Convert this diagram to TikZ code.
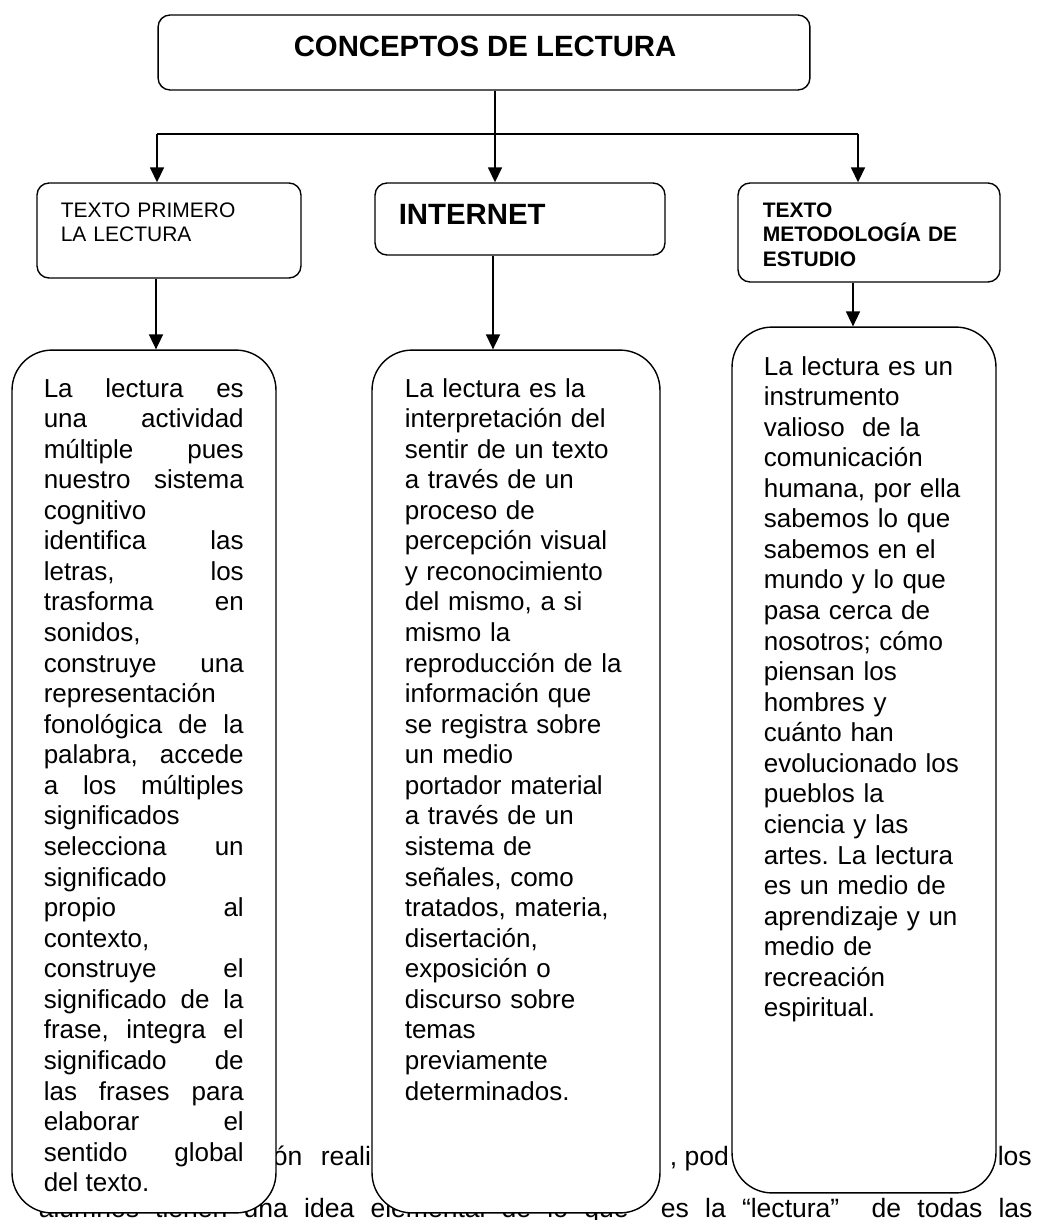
\documentclass[tikz,border=0pt]{standalone}
\usepackage{fontspec}
\setmainfont{Liberation Sans}
\frenchspacing
\usetikzlibrary{arrows.meta, positioning}
\tikzset{
>={Triangle[length=0.3cm, width=0.28cm]}, % filled arrow heads
every node/.style={inner sep=0pt}, % boxes are sized by hand
head/.style={draw, thick, rounded corners=0.24cm, fill=white}, % small title boxes
card/.style={draw, thick, rounded corners=0.8cm, fill=white}, % long text boxes
words/.style={anchor=base west, align=left, text width=4.6cm, font=\fontsize{14.8}{17.4}\selectfont}, % text in the long boxes
small/.style={anchor=base west, align=left, text width=4.6cm, font=\fontsize{11.95}{13.7}\selectfont}, % text in the title boxes
big/.style={anchor=base west, font=\fontsize{16.7}{20}\selectfont\bfseries}, % large bold titles
page/.style={anchor=base west, font=\fontsize{15.1}{18}\selectfont} % text of the page behind
}
\newcommand{\jl}[1]{\makebox[\hsize][s]{\spaceskip=0pt\xspaceskip=0pt #1}\\}

\begin{document}
\begin{tikzpicture}[x=0.02cm, y=-0.02cm, line width=0.9pt]
\path[use as bounding box] (0,0) rectangle (1037,1220);
\clip (0,0) rectangle (1037,1220);

% page text behind the chart
\node[page] (p1) at (272,1165) {ón};
\node[page] (p2) at (320,1165) {reali};
\node[page] (p3) at (669,1165) {, pod};
\node[page] (p4) at (997,1165) {los};
\node[page] (p5) at (38,1217) {\makebox[19.88cm][s]{alumnos tienen una idea elemental de lo que \ es la “lectura” \ de todas las}};

% boxes
\node[head, minimum width=13.04cm, minimum height=1.5cm] (top) at (484,52.5) {};
\node[head, minimum width=5.28cm, minimum height=1.9cm] (tA) at (169,230.5) {};
\node[head, minimum width=5.8cm, minimum height=1.44cm] (tB) at (520,219) {};
\node[head, minimum width=5.24cm, minimum height=1.98cm] (tC) at (869,232.5) {};
\node[card, minimum width=5.28cm, minimum height=17.26cm] (bA) at (144,781.5) {};
\node[card, minimum width=5.76cm, minimum height=17.26cm] (bB) at (516,781.5) {};
\node[card, minimum width=5.28cm, minimum height=17.32cm] (bC) at (864,760) {};

% titles
\node[big] (topt) at (293,57) {CONCEPTOS DE LECTURA};
\node[small] (tAt) at (60,217) {TEXTO PRIMERO\\LA LECTURA};
\node[big] (tBt) at (398,224) {INTERNET};
\node[small, font=\fontsize{11.95}{14.2}\selectfont\bfseries] (tCt) at (762,217) {TEXTO\\METODOLOGÍA DE\\ESTUDIO};

% long texts
\node[words, text width=4cm, align=justify] (bAt) at (43,397) {\jl{La lectura es}\jl{una actividad}\jl{múltiple pues}\jl{nuestro sistema}cognitivo\\
\jl{identifica las}\jl{letras, los}\jl{trasforma en}sonidos,\\\jl{construye una}representación\\
\jl{fonológica de la}\jl{palabra, accede}\jl{a los múltiples}significados\\\jl{selecciona un}significado\\
\jl{propio al}contexto,\\\jl{construye el}\jl{significado de la}\jl{frase, integra el}\jl{significado de}
\jl{las frases para}\jl{elaborar el}\jl{sentido global}del texto.};
\node[words] (bBt) at (404,397) {La lectura es la\\interpretación del\\sentir de un texto\\a través de un\\proceso de\\
percepción visual\\y reconocimiento\\del mismo, a si\\mismo la\\reproducción de la\\información que\\
se registra sobre\\un medio\\portador material\\a través de un\\sistema de\\señales, como\\tratados, materia,\\
disertación,\\exposición o\\discurso sobre\\temas\\previamente\\determinados.};
\node[words] (bCt) at (763,375) {La lectura es un\\instrumento\\valioso \ de la\\comunicación\\humana, por ella\\
sabemos lo que\\sabemos en el\\mundo y lo que\\pasa cerca de\\nosotros; cómo\\piensan los\\hombres y\\
cuánto han\\evolucionado los\\pueblos la\\ciencia y las\\artes. La lectura\\es un medio de\\aprendizaje y un\\
medio de\\recreación\\espiritual.};

% connectors
\coordinate (jA) at (157,134);
\coordinate (jB) at (495,134);
\coordinate (jC) at (858,134);
\coordinate (aA) at (156,0);
\coordinate (aB) at (493,0);
\coordinate (aC) at (853,0);
\draw (top.south -| jB) -- (jB);
\draw (jA) -- (jC);
\draw[->] (jA) -- (tA.north -| jA);
\draw[->] (jB) -- (tB.north -| jB);
\draw[->] (jC) -- (tC.north -| jC);
\draw[->] (tA.south -| aA) -- (bA.north -| aA);
\draw[->] (tB.south -| aB) -- (bB.north -| aB);
\draw[->] (tC.south -| aC) -- (bC.north -| aC);
\end{tikzpicture}
\end{document}
